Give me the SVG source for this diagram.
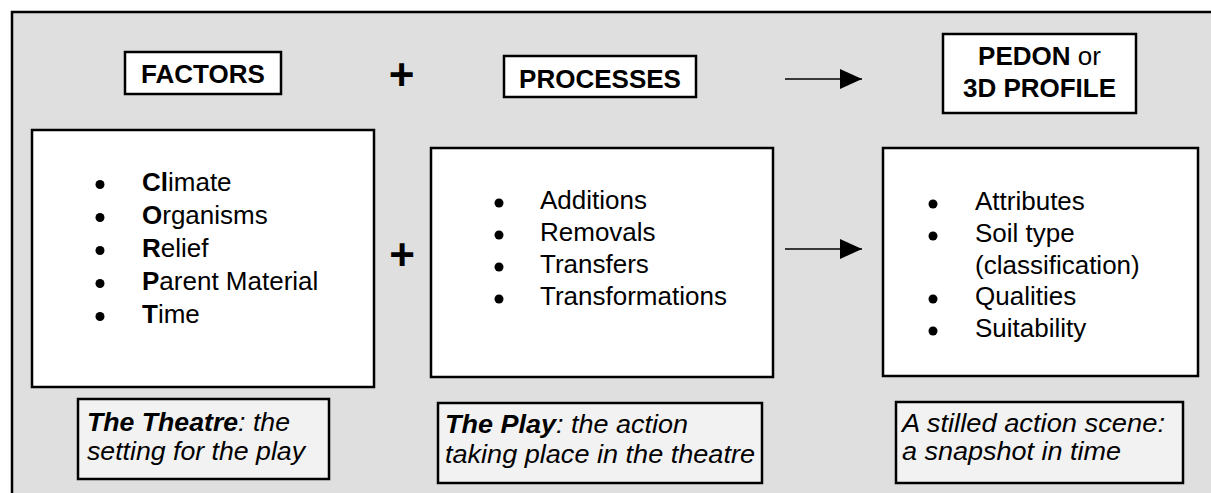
<svg xmlns="http://www.w3.org/2000/svg" width="1211" height="493" viewBox="0 0 1211 493">
<style>
text{font-family:"Liberation Sans",Arial,sans-serif;fill:#000}
.hdr{font-size:26px;font-weight:bold;text-anchor:middle}
.lst{font-size:26px}
.b{font-weight:bold}
.cap{font-size:25px;font-style:italic}
.box{fill:#fff;stroke:#000;stroke-width:2.5}
.capbox{fill:#f2f2f2;stroke:#000;stroke-width:2.5}
.plus{font-size:44px;font-weight:bold;text-anchor:middle}
.arrow{stroke:#000;stroke-width:1.6;fill:none}
</style>
<defs>
<marker id="ah" markerWidth="22" markerHeight="20" refX="22" refY="10" markerUnits="userSpaceOnUse" orient="auto">
<path d="M0,0 L22,10 L0,20 Z" fill="#000"/>
</marker>
</defs>
<rect x="12" y="12" width="1230" height="510" fill="#dfdfdf" stroke="#000" stroke-width="2.5"/>

<g id="factors-header">
<rect class="box" x="125" y="52" width="156" height="42"/>
<text class="hdr" x="203" y="83">FACTORS</text>
</g>
<g id="processes-header">
<rect class="box" x="504" y="56" width="192" height="41"/>
<text class="hdr" x="600" y="88">PROCESSES</text>
</g>
<g id="pedon-header">
<rect class="box" x="943" y="34" width="193" height="79"/>
<text class="hdr" x="1039.5" y="65">PEDON<tspan font-weight="normal"> or</tspan></text>
<text class="hdr" x="1039.5" y="97">3D PROFILE</text>
</g>

<g id="factors-list">
<rect class="box" x="32" y="130" width="342" height="257"/>
<circle cx="100" cy="184.5" r="4.5"/>
<circle cx="100" cy="217.5" r="4.5"/>
<circle cx="100" cy="250.5" r="4.5"/>
<circle cx="100" cy="283.5" r="4.5"/>
<circle cx="100" cy="316.5" r="4.5"/>
<text class="lst" x="142" y="190.8"><tspan class="b">Cl</tspan>imate</text>
<text class="lst" x="142" y="223.8"><tspan class="b">O</tspan>rganisms</text>
<text class="lst" x="142" y="256.8"><tspan class="b">R</tspan>elief</text>
<text class="lst" x="142" y="289.8"><tspan class="b">P</tspan>arent Material</text>
<text class="lst" x="142" y="322.8"><tspan class="b">T</tspan>ime</text>
</g>

<g id="processes-list">
<rect class="box" x="431" y="148" width="342" height="229"/>
<circle cx="499" cy="203" r="4.5"/>
<circle cx="499" cy="235" r="4.5"/>
<circle cx="499" cy="267" r="4.5"/>
<circle cx="499" cy="299" r="4.5"/>
<text class="lst" x="540" y="209">Additions</text>
<text class="lst" x="540" y="241">Removals</text>
<text class="lst" x="540" y="273">Transfers</text>
<text class="lst" x="540" y="305">Transformations</text>
</g>

<g id="pedon-list">
<rect class="box" x="883" y="148" width="315" height="228"/>
<circle cx="933" cy="204" r="4.5"/>
<circle cx="933" cy="236" r="4.5"/>
<circle cx="933" cy="299" r="4.5"/>
<circle cx="933" cy="331" r="4.5"/>
<text class="lst" x="975" y="210">Attributes</text>
<text class="lst" x="975" y="242">Soil type</text>
<text class="lst" x="975" y="273.5">(classification)</text>
<text class="lst" x="975" y="305">Qualities</text>
<text class="lst" x="975" y="337">Suitability</text>
</g>

<g id="theatre-caption">
<rect class="capbox" x="78" y="399" width="251" height="80"/>
<text class="cap" x="87" y="431" textLength="203" lengthAdjust="spacingAndGlyphs"><tspan class="b">The Theatre</tspan>: the</text>
<text class="cap" x="87" y="460" textLength="218" lengthAdjust="spacingAndGlyphs">setting for the play</text>
</g>
<g id="play-caption">
<rect class="capbox" x="438" y="403" width="324" height="80"/>
<text class="cap" x="445" y="433" textLength="243" lengthAdjust="spacingAndGlyphs"><tspan class="b">The Play</tspan>: the action</text>
<text class="cap" x="445" y="463" textLength="310" lengthAdjust="spacingAndGlyphs">taking place in the theatre</text>
</g>
<g id="snapshot-caption">
<rect class="capbox" x="896" y="402" width="287" height="81"/>
<text class="cap" x="902" y="432" textLength="263" lengthAdjust="spacingAndGlyphs">A stilled action scene:</text>
<text class="cap" x="902" y="460" textLength="219" lengthAdjust="spacingAndGlyphs">a snapshot in time</text>
</g>

<g id="operators">
<text class="plus" x="401.5" y="90">+</text>
<text class="plus" x="402" y="270">+</text>
</g>

<g id="connectors">
<line class="arrow" x1="785" y1="79" x2="862" y2="79" marker-end="url(#ah)"/>
<line class="arrow" x1="785" y1="249" x2="862" y2="249" marker-end="url(#ah)"/>
</g>
</svg>
